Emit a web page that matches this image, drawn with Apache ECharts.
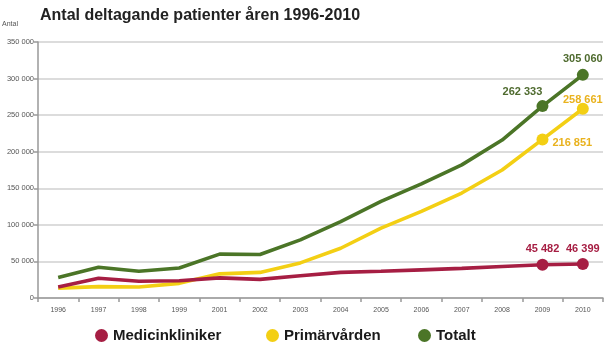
<!DOCTYPE html>
<html>
<head>
<meta charset="utf-8">
<script src="https://cdn.jsdelivr.net/npm/echarts@6/dist/echarts.min.js"></script>
<style>
html,body{margin:0;padding:0;background:#fff;}
#c{width:604px;height:349px;}
</style>
</head>
<body>
<div id="c"></div>
<script>
var categories = ['1996','1997','1998','1999','2001','2002','2003','2004','2005','2006','2007','2008','2009','2010'];
var medicinkliniker = [15000, 27000, 23000, 23500, 27500, 25500, 30500, 35000, 36500, 38500, 40500, 43000, 45482, 46399];
var primarvarden = [13500, 15500, 15000, 20000, 33000, 35000, 48000, 68000, 95500, 118500, 143500, 175000, 216851, 258661];
var totalt = [28000, 42000, 36500, 41000, 60000, 59500, 79500, 104500, 132000, 156000, 182000, 216000, 262333, 305060];
var yTicks = [0, 50000, 100000, 150000, 200000, 250000, 300000, 350000];

var seriesNames = ['Medicinkliniker', 'Primärvården', 'Totalt'];
var colors = ['#a61e43', '#f3cf14', '#4b7527'];
var labelColors = ['#a61e43', '#e9b21e', '#4f6b2f'];

function fmt(v){
  var s = String(Math.round(v));
  return s.replace(/\B(?=(\d{3})+(?!\d))/g, ' ');
}

// label placement (style only) for the two last points of each series
var labelCfg = [
  [{position:'top', distance:4}, {position:'top', distance:4}],
  [{position:'right', distance:4, offset:[0,4]}, {position:'top', distance:-3}],
  [{position:'top', distance:3, offset:[-20,0]}, {position:'top', distance:4}]
];

function build(values, si){
  return values.map(function(v, i){
    var k = i - (values.length - 2);
    if (k >= 0) {
      var lc = labelCfg[si][k];
      return {
        value: v,
        symbol: 'circle',
        symbolSize: 12,
        label: {
          show: true,
          position: lc.position,
          distance: lc.distance,
          offset: lc.offset || [0,0],
          formatter: function(p){ return fmt(p.value); },
          color: labelColors[si],
          fontSize: 11,
          fontWeight: 'bold',
          fontFamily: 'Liberation Sans'
        }
      };
    }
    return {value: v, symbol: 'none'};
  });
}

var allValues = [medicinkliniker, primarvarden, totalt];
var series = allValues.map(function(vals, si){
  return {
    name: seriesNames[si],
    type: 'line',
    data: build(vals, si),
    showAllSymbol: true,
    lineStyle: {width: 3.6, color: colors[si]},
    itemStyle: {color: colors[si]},
    z: si === 0 ? 4 : (si === 1 ? 3 : 2),
    animation: false
  };
});

var legendLefts = [90, 261, 413];
var legends = seriesNames.map(function(n, i){
  return {
    data: [n],
    left: legendLefts[i],
    top: 323,
    icon: 'circle',
    itemWidth: 13,
    itemHeight: 13,
    textStyle: {fontSize: 15, fontWeight: 'bold', color: '#1a1a1a', fontFamily: 'Liberation Sans'},
    selectedMode: false
  };
});

var chart = echarts.init(document.getElementById('c'), null, {renderer: 'canvas'});
chart.setOption({
  animation: false,
  backgroundColor: '#fff',
  title: {
    text: 'Antal deltagande patienter åren 1996-2010',
    left: 35,
    top: 3,
    textStyle: {fontSize: 16, fontWeight: 'bold', color: '#222', fontFamily: 'Liberation Sans'}
  },
  graphic: [{
    type: 'text', left: 2, top: 21,
    style: {text: 'Antal', fontSize: 7, fill: '#555', fontFamily: 'Liberation Sans'}
  }],
  legend: legends,
  grid: {left: 38, right: 1, top: 42, bottom: 51, containLabel: false},
  xAxis: {
    type: 'category',
    data: categories,
    boundaryGap: true,
    axisLine: {lineStyle: {color: '#999', width: 1.5}},
    axisTick: {show: true, interval: 0, length: 4, lineStyle: {color: '#999', width: 1.5}},
    axisLabel: {fontSize: 7, color: '#555', margin: 9, interval: 0, fontFamily: 'Liberation Sans'}
  },
  yAxis: {
    type: 'value',
    min: yTicks[0],
    max: yTicks[yTicks.length - 1],
    interval: 50000,
    axisLine: {show: true, lineStyle: {color: '#999', width: 1.5}},
    axisTick: {show: true, length: 4, lineStyle: {color: '#999', width: 1.5}},
    splitLine: {lineStyle: {color: '#d0d0d0', width: 1.5}},
    axisLabel: {
      fontSize: 7.5, color: '#555', margin: 4, fontFamily: 'Liberation Sans',
      formatter: function(v){ return fmt(v); }
    }
  },
  series: series
});
</script>
</body>
</html>
